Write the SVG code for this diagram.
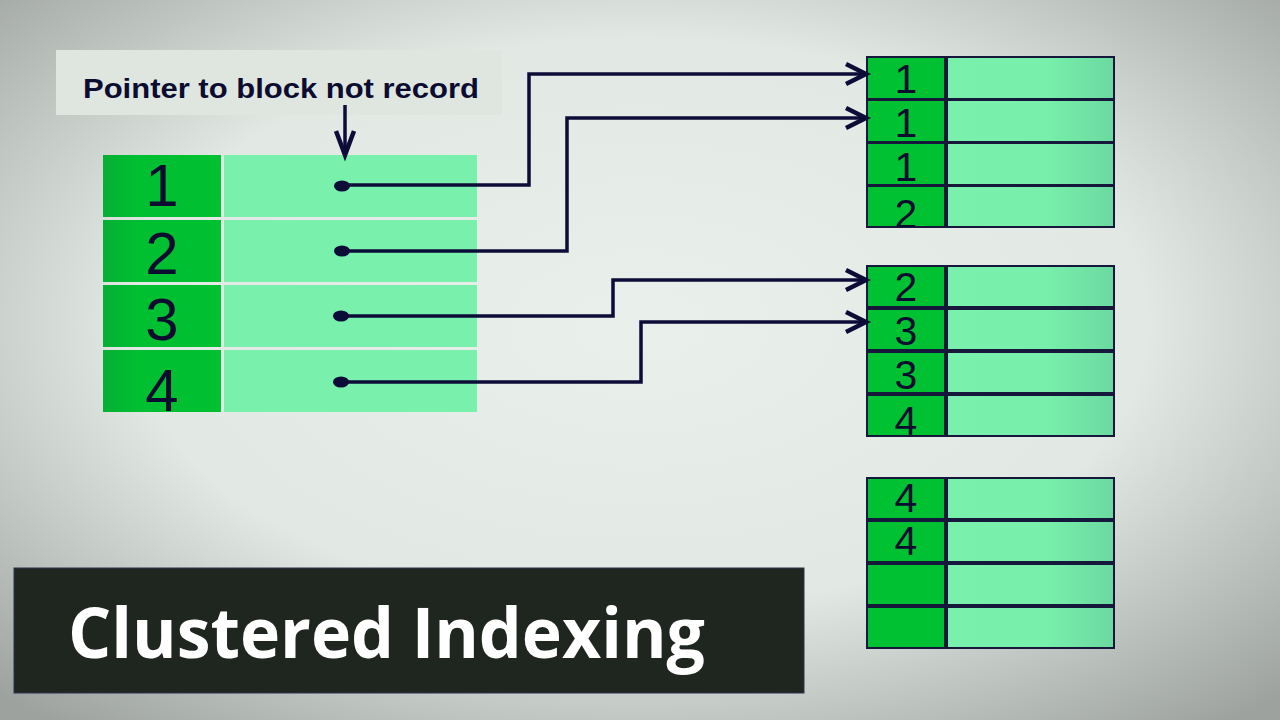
<svg xmlns="http://www.w3.org/2000/svg" width="1280" height="720" viewBox="0 0 1280 720">
<defs>
<radialGradient id="bg" cx="0.5" cy="0.45" r="0.72">
<stop offset="0" stop-color="#e9efea"/>
<stop offset="0.55" stop-color="#e2e8e3"/>
<stop offset="1" stop-color="#9da29e"/>
</radialGradient>
<linearGradient id="val" x1="0" y1="0" x2="1" y2="0">
<stop offset="0" stop-color="#7af0ad"/>
<stop offset="0.6" stop-color="#78efab"/>
<stop offset="1" stop-color="#6cd9a0"/>
</linearGradient>
<linearGradient id="key" x1="0" y1="0" x2="1" y2="0">
<stop offset="0" stop-color="#05b034"/>
<stop offset="0.3" stop-color="#00bf31"/>
<stop offset="1" stop-color="#00c130"/>
</linearGradient>
<clipPath id="cl"><rect x="103" y="155" width="118" height="257"/></clipPath>
<clipPath id="cr1"><rect x="867" y="57" width="78" height="170"/></clipPath>
<clipPath id="cr2"><rect x="867" y="266" width="78" height="170"/></clipPath>
</defs>
<style>
.key{fill:url(#key)}
.lval{fill:#7af0ad}
.rkey{fill:#00c131;stroke:#15183a;stroke-width:2}
.rval{fill:url(#val);stroke:#15183a;stroke-width:2}
.num{font-family:"Liberation Sans",Arial,sans-serif;fill:#0c0c30;text-anchor:middle}
.big{font-size:60px}
.sm{font-size:41px}
.wire{fill:none;stroke:#0c0c38;stroke-width:3.5;stroke-linejoin:miter}
.head{fill:none;stroke:#0c0c38;stroke-width:4.5;stroke-linejoin:miter;stroke-linecap:butt}
</style>
<rect width="1280" height="720" fill="url(#bg)"/>

<g id="label">
<rect x="56" y="50" width="446" height="65" fill="#dfe6e0"/>
<text x="281" y="98" font-family="Liberation Sans, Arial, sans-serif" font-weight="bold" font-size="28" fill="#0c0c30" text-anchor="middle" textLength="396" lengthAdjust="spacingAndGlyphs">Pointer to block not record</text>
</g>

<g id="index">
<rect x="224" y="155" width="253" height="62" class="lval"/>
<rect x="224" y="220" width="253" height="62" class="lval"/>
<rect x="224" y="285" width="253" height="62" class="lval"/>
<rect x="224" y="350" width="253" height="62" class="lval"/>
<rect x="103" y="155" width="118" height="62" class="key"/>
<rect x="103" y="220" width="118" height="62" class="key"/>
<rect x="103" y="285" width="118" height="62" class="key"/>
<rect x="103" y="350" width="118" height="62" class="key"/>
<g clip-path="url(#cl)">
<text x="162" y="206" class="num big">1</text>
<text x="162" y="274" class="num big">2</text>
<text x="162" y="340" class="num big">3</text>
<text x="162" y="411" class="num big">4</text>
</g>
</g>

<g id="block1">
<rect x="947" y="57" width="167" height="42" class="rval"/>
<rect x="947" y="100" width="167" height="42" class="rval"/>
<rect x="947" y="143" width="167" height="42" class="rval"/>
<rect x="947" y="186" width="167" height="41" class="rval"/>
<rect x="867" y="57" width="78" height="42" class="rkey"/>
<rect x="867" y="100" width="78" height="42" class="rkey"/>
<rect x="867" y="143" width="78" height="42" class="rkey"/>
<rect x="867" y="186" width="78" height="41" class="rkey"/>
<g clip-path="url(#cr1)">
<text x="906" y="93" class="num sm">1</text>
<text x="906" y="137" class="num sm">1</text>
<text x="906" y="181" class="num sm">1</text>
<text x="906" y="228" class="num sm">2</text>
</g>
</g>

<g id="block2">
<rect x="947" y="266" width="167" height="41" class="rval"/>
<rect x="947" y="309" width="167" height="41" class="rval"/>
<rect x="947" y="352" width="167" height="41" class="rval"/>
<rect x="947" y="395" width="167" height="41" class="rval"/>
<rect x="867" y="266" width="78" height="41" class="rkey"/>
<rect x="867" y="309" width="78" height="41" class="rkey"/>
<rect x="867" y="352" width="78" height="41" class="rkey"/>
<rect x="867" y="395" width="78" height="41" class="rkey"/>
<g clip-path="url(#cr2)">
<text x="906" y="301" class="num sm">2</text>
<text x="906" y="345" class="num sm">3</text>
<text x="906" y="389" class="num sm">3</text>
<text x="906" y="435" class="num sm">4</text>
</g>
</g>

<g id="block3">
<rect x="947" y="478" width="167" height="41" class="rval"/>
<rect x="947" y="521" width="167" height="41" class="rval"/>
<rect x="947" y="564" width="167" height="41" class="rval"/>
<rect x="947" y="607" width="167" height="41" class="rval"/>
<rect x="867" y="478" width="78" height="41" class="rkey"/>
<rect x="867" y="521" width="78" height="41" class="rkey"/>
<rect x="867" y="564" width="78" height="41" class="rkey"/>
<rect x="867" y="607" width="78" height="41" class="rkey"/>
<text x="906" y="512" class="num sm">4</text>
<text x="906" y="555" class="num sm">4</text>
</g>

<g id="connectors">
<line x1="345" y1="105" x2="345" y2="154" class="wire"/>
<polyline points="336,131 345,155 354,131" class="head"/>
<ellipse cx="342" cy="186" rx="8" ry="5.5" fill="#0c0c38"/>
<ellipse cx="342" cy="251" rx="8" ry="5.5" fill="#0c0c38"/>
<ellipse cx="341" cy="316" rx="8" ry="5.5" fill="#0c0c38"/>
<ellipse cx="341" cy="382" rx="8" ry="5.5" fill="#0c0c38"/>
<polyline points="342,185 529,185 529,74 866,74" class="wire"/>
<polyline points="342,251 567,251 567,118 866,118" class="wire"/>
<polyline points="341,316 613,316 613,280 866,280" class="wire"/>
<polyline points="341,382 641,382 641,322 866,322" class="wire"/>
<polyline points="846,64 866,74 846,84" class="head"/>
<polyline points="846,108 866,118 846,128" class="head"/>
<polyline points="846,270 866,280 846,290" class="head"/>
<polyline points="846,312 866,322 846,332" class="head"/>
</g>

<g id="title">
<rect x="14" y="568" width="790" height="125" fill="#1f261f" stroke="#2a3550" stroke-width="1"/>
<text x="68" y="658" font-family="Open Sans, Noto Sans, sans-serif" font-weight="700" font-size="70" fill="#ffffff" textLength="637" lengthAdjust="spacingAndGlyphs">Clustered Indexing</text>
</g>
</svg>
